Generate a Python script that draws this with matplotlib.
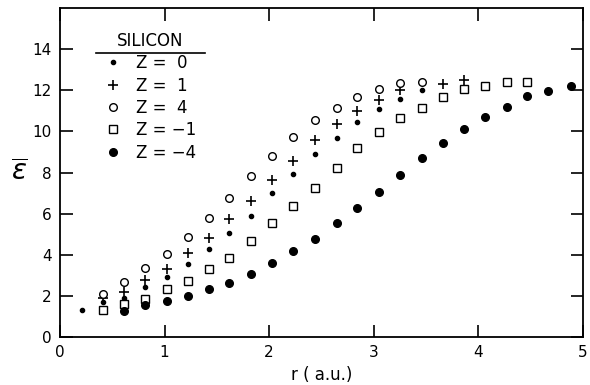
import matplotlib
matplotlib.use('Agg')
import matplotlib.pyplot as plt
from matplotlib.lines import Line2D

plt.rcParams['font.family'] = ['DejaVu Sans']

# 数据
z0_r = [0.21, 0.41, 0.61, 0.81, 1.02, 1.22, 1.42, 1.62, 1.83, 2.03, 2.23, 2.44, 2.65, 2.84, 3.05, 3.25, 3.46]
z0_e = [1.31, 1.7, 1.9, 2.45, 2.9, 3.55, 4.28, 5.05, 5.9, 7.0, 7.92, 8.9, 9.7, 10.45, 11.08, 11.6, 12.0]

z1_r = [0.41, 0.61, 0.81, 1.02, 1.22, 1.42, 1.62, 1.83, 2.03, 2.23, 2.44, 2.65, 2.84, 3.05, 3.25, 3.66, 3.86]
z1_e = [1.9, 2.2, 2.75, 3.3, 4.07, 4.8, 5.73, 6.6, 7.63, 8.57, 9.58, 10.35, 10.99, 11.52, 12.0, 12.3, 12.5]

z4_r = [0.41, 0.61, 0.81, 1.02, 1.22, 1.42, 1.62, 1.83, 2.03, 2.23, 2.44, 2.65, 2.84, 3.05, 3.25, 3.46]
z4_e = [2.1, 2.67, 3.35, 4.03, 4.86, 5.78, 6.75, 7.84, 8.8, 9.73, 10.58, 11.15, 11.68, 12.04, 12.35, 12.4]

zm1_r = [0.41, 0.61, 0.81, 1.02, 1.22, 1.42, 1.62, 1.83, 2.03, 2.23, 2.44, 2.65, 2.84,
         3.05, 3.25, 3.46, 3.66, 3.86, 4.06, 4.27, 4.47]
zm1_e = [1.33, 1.62, 1.87, 2.33, 2.73, 3.31, 3.85, 4.67, 5.54, 6.37, 7.27, 8.2, 9.2,
         9.97, 10.63, 11.15, 11.66, 12.05, 12.2, 12.38, 12.4]

zm4_r = [0.61, 0.81, 1.02, 1.22, 1.42, 1.62, 1.83, 2.03, 2.23, 2.44, 2.65, 2.84, 3.05,
         3.25, 3.46, 3.66, 3.86, 4.06, 4.27, 4.47, 4.67, 4.89]
zm4_e = [1.28, 1.55, 1.74, 2.0, 2.33, 2.64, 3.06, 3.58, 4.18, 4.76, 5.54, 6.27, 7.07,
         7.88, 8.7, 9.43, 10.1, 10.7, 11.2, 11.72, 11.96, 12.2]

labels = ['Z =  0', 'Z =  1', 'Z =  4', 'Z = \u22121', 'Z = \u22124']
x_ticks = [0, 1, 2, 3, 4, 5]
y_ticks = [0, 2, 4, 6, 8, 10, 12, 14]

fig = plt.figure(figsize=(5.9, 3.85), dpi=100)
ax = fig.add_axes([0.1017, 0.1247, 0.8863, 0.8543])

ax.plot(z0_r, z0_e, 'o', ms=3, color='black', ls='none', label=labels[0])
ax.plot(z1_r, z1_e, '+', ms=6.5, mew=1.2, color='black', ls='none', label=labels[1])
ax.plot(z4_r, z4_e, 'o', ms=5.5, mfc='white', mec='black', mew=1.0, ls='none', label=labels[2])
ax.plot(zm1_r, zm1_e, 's', ms=5.5, mfc='white', mec='black', mew=1.0, ls='none', label=labels[3])
ax.plot(zm4_r, zm4_e, 'o', ms=5.5, color='black', ls='none', label=labels[4])

ax.set_xlim(0, 5)
ax.set_ylim(0, 16)
ax.set_xticks(x_ticks)
ax.set_yticks(y_ticks)
ax.tick_params(direction='in', length=9, width=1.2, top=True, right=True,
               labelsize=11, pad=6)
for s in ax.spines.values():
    s.set_linewidth(1.3)

ax.set_xlabel('r ( a.u.)', fontsize=12, labelpad=4)
ax.set_ylabel(r'$\overline{\varepsilon}$', fontsize=20, rotation=0, labelpad=9, va='center')

leg = ax.legend(loc='upper left', bbox_to_anchor=(0.072, 0.948), frameon=False,
                title='SILICON', fontsize=12, title_fontsize=12,
                handletextpad=0.9, handlelength=1.0, labelspacing=0.26,
                borderaxespad=0)

# 给标题加下划线
fig.canvas.draw()
bb = leg.get_window_extent()
tb = leg.get_title().get_window_extent()
inv = fig.transFigure.inverted()
x0, y0 = inv.transform((bb.x0 - 2, tb.y0 - 3))
x1, _ = inv.transform((bb.x1 + 2, tb.y0 - 3))
fig.add_artist(Line2D([x0, x1], [y0, y0], transform=fig.transFigure, color='black', lw=1.2))

fig.savefig('out.png', dpi=100)
